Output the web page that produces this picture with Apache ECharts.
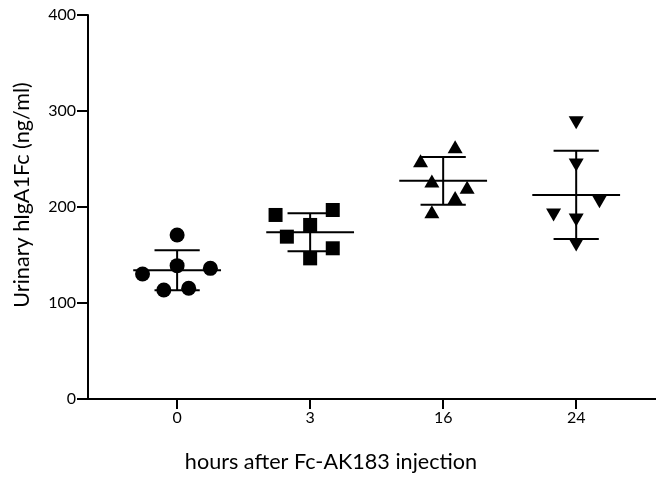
<!DOCTYPE html>
<html>
<head>
<meta charset="utf-8">
<script src="https://cdn.jsdelivr.net/npm/echarts@6/dist/echarts.min.js"></script>
<style>
html,body{margin:0;padding:0;background:#fff;}
#chart{width:656px;height:480px;}
</style>
</head>
<body>
<div id="chart"></div>
<script>
// Categories (hours after injection)
const categories = ['0', '3', '16', '24'];
// Urinary hIgA1Fc values (ng/ml) per group
const values0 = [170.8, 138.9, 130.2, 136.1, 113.5, 115.3];
const values3 = [191.7, 196.9, 181.3, 169.1, 157.0, 146.5];
const values16 = [262.8, 248.2, 227.0, 220.5, 210.0, 195.1];
const values24 = [287.8, 243.8, 205.5, 191.7, 186.5, 160.4];
// Horizontal jitter of each point within its group (category units)
const jitter0 = [0, 0, -0.26, 0.25, -0.10, 0.087];
const jitter3 = [-0.26, 0.17, 0, -0.175, 0.17, 0];
const jitter16 = [0.09, -0.17, -0.085, 0.18, 0.09, -0.085];
const jitter24 = [0, 0, 0.175, -0.17, 0, 0];
const yTicks = [0, 100, 200, 300, 400];

const groups = [
  { vals: values0, jit: jitter0, symbol: 'circle', size: 15, rot: 0 },
  { vals: values3, jit: jitter3, symbol: 'rect', size: 14, rot: 0 },
  { vals: values16, jit: jitter16, symbol: 'triangle', size: [15, 13], rot: 0 },
  { vals: values24, jit: jitter24, symbol: 'triangle', size: [15, 13], rot: 180 }
];

function meanSd(a) {
  const m = a.reduce((s, v) => s + v, 0) / a.length;
  const v = a.reduce((s, x) => s + (x - m) * (x - m), 0) / (a.length - 1);
  return [m, Math.sqrt(v)];
}

const stats = groups.map((g, i) => { const ms = meanSd(g.vals); return [i, ms[0], ms[1]]; });

const series = groups.map((g, i) => ({
  type: 'scatter',
  symbol: g.symbol,
  symbolSize: g.size,
  symbolRotate: g.rot,
  itemStyle: { color: '#000', opacity: 1 },
  emphasis: { disabled: true },
  data: g.vals.map((v, k) => [i + g.jit[k], v]),
  z: 3
}));

series.push({
  type: 'custom',
  data: stats,
  z: 2,
  renderItem: function (params, api) {
    const x = api.value(0), m = api.value(1), sd = api.value(2);
    const mw = 0.33, cw = 0.17;
    const a = api.coord([x - mw, m]), b = api.coord([x + mw, m]);
    const t1 = api.coord([x - cw, m + sd]), t2 = api.coord([x + cw, m + sd]);
    const l1 = api.coord([x - cw, m - sd]), l2 = api.coord([x + cw, m - sd]);
    const top = api.coord([x, m + sd]), bot = api.coord([x, m - sd]);
    const st = { stroke: '#000', lineWidth: 2 };
    return {
      type: 'group',
      children: [
        { type: 'line', shape: { x1: a[0], y1: a[1], x2: b[0], y2: b[1] }, style: st },
        { type: 'line', shape: { x1: t1[0], y1: t1[1], x2: t2[0], y2: t2[1] }, style: st },
        { type: 'line', shape: { x1: l1[0], y1: l1[1], x2: l2[0], y2: l2[1] }, style: st },
        { type: 'line', shape: { x1: top[0], y1: top[1], x2: bot[0], y2: bot[1] }, style: st }
      ]
    };
  }
});

const chart = echarts.init(document.getElementById('chart'), null, { renderer: 'canvas' });
chart.setOption({
  backgroundColor: '#fff',
  animation: false,
  textStyle: { fontFamily: 'Lato' },
  grid: { left: 88, right: 0, top: 15, bottom: 81, containLabel: false },
  xAxis: {
    type: 'value',
    min: -0.67,
    max: 3.6,
    name: 'hours after Fc-AK183 injection',
    nameLocation: 'middle',
    nameGap: 52,
    nameTextStyle: { fontFamily: 'Lato', fontSize: 21.6, color: '#000', padding: [0, 82, 0, 0] },
    axisLine: { onZero: false, lineStyle: { color: '#000', width: 2 } },
    axisTick: { show: true, length: 10, lineStyle: { color: '#000', width: 2 }, customValues: [0, 1, 2, 3] },
    axisLabel: {
      customValues: [0, 1, 2, 3],
      formatter: v => categories[Math.round(v)],
      fontFamily: 'Lato', fontSize: 16, color: '#000', margin: 11
    },
    splitLine: { show: false }
  },
  yAxis: {
    type: 'value',
    min: yTicks[0],
    max: yTicks[yTicks.length - 1],
    interval: 100,
    name: 'Urinary hIgA1Fc (ng/ml)',
    nameLocation: 'middle',
    nameGap: 55,
    nameTextStyle: { fontFamily: 'Lato', fontSize: 21.6, color: '#000', padding: [0, 0, 0, 24] },
    axisLine: { show: true, onZero: false, lineStyle: { color: '#000', width: 2 } },
    axisTick: { show: true, length: 11, lineStyle: { color: '#000', width: 2 } },
    axisLabel: { fontFamily: 'Lato', fontSize: 16, color: '#000', margin: 12 },
    splitLine: { show: false }
  },
  series: series
});
</script>
</body>
</html>
